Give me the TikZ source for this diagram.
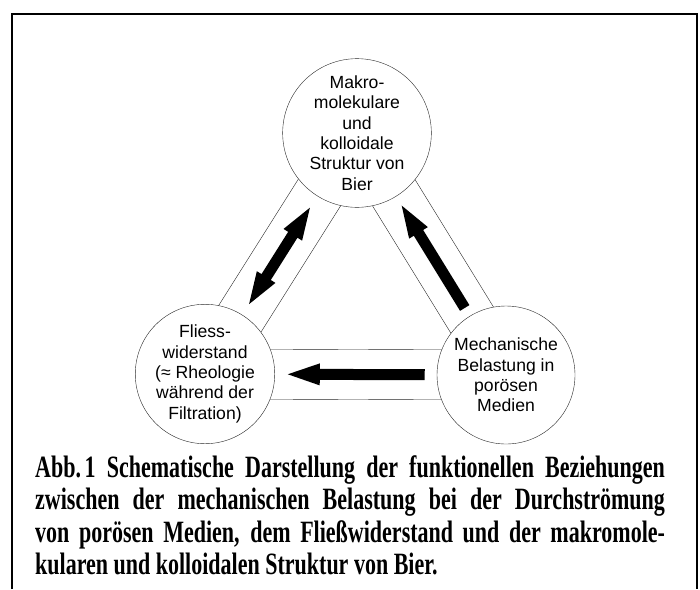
\documentclass[tikz,border=0pt]{standalone}
\usepackage{fontspec}
\setmainfont{Liberation Sans}
\newfontfamily\capfont{Liberation Serif}
\usetikzlibrary{calc,backgrounds}

\newcommand{\fatarrow}[2]{%
  \coordinate (hb) at ($(#2)!32pt!(#1)$);
  \fill ($(#1)!5.5pt!90:(#2)$) -- ($(hb)!5.5pt!90:(#2)$) -- ($(hb)!11pt!90:(#2)$)
    -- (#2) -- ($(hb)!11pt!-90:(#2)$) -- ($(hb)!5.5pt!-90:(#2)$) -- ($(#1)!5.5pt!-90:(#2)$) -- cycle;
}
\newcommand{\fatdarrow}[2]{%
  \coordinate (hb) at ($(#2)!32pt!(#1)$);
  \coordinate (ha) at ($(#1)!32pt!(#2)$);
  \fill (#1) -- ($(ha)!11pt!90:(#2)$) -- ($(ha)!5.5pt!90:(#2)$) -- ($(hb)!5.5pt!90:(#2)$) -- ($(hb)!11pt!90:(#2)$)
    -- (#2) -- ($(hb)!11pt!-90:(#2)$) -- ($(hb)!5.5pt!-90:(#2)$) -- ($(ha)!5.5pt!-90:(#2)$) -- ($(ha)!11pt!-90:(#2)$) -- cycle;
}
\newcommand{\strip}[2]{%
  \draw[thin, black!85] ($(#1)!25pt!90:(#2)$) -- ($(#2)!25pt!-90:(#1)$);
  \draw[thin, black!85] ($(#1)!25pt!-90:(#2)$) -- ($(#2)!25pt!90:(#1)$);
}

\begin{document}
\begin{tikzpicture}[x=1pt, y=-1pt,
    topic/.style={circle, draw=black!85, thin, fill=white, minimum size=138pt, inner sep=0pt,
      align=center, font=\fontsize{17.6}{20.3}\selectfont}]
  \useasboundingbox (0,0) rectangle (700,589);
  \draw[line width=1.5pt] (12,589) -- (12,14) -- (697,14) -- (697,589);

  \node[topic] (bier) at (357,133) {Makro-\\molekulare\\und\\kolloidale\\Struktur von\\Bier};
  \node[topic] (fliess) at (205,374) {Fliess-\\widerstand\\(≈ Rheologie\\während der\\Filtration)};
  \node[topic] (mech) at (506,375) {Mechanische\\Belastung in\\porösen\\Medien};

  \begin{scope}[on background layer]
    \strip{fliess.center}{bier.center}
    \strip{mech.center}{bier.center}
    \strip{mech.center}{fliess.center}
  \end{scope}

  \coordinate (a1) at ($(fliess.center)!0.29!(bier.center)$);
  \coordinate (a2) at ($(fliess.center)!0.69!(bier.center)$);
  \coordinate (b1) at ($(mech.center)!0.277!(bier.center)$);
  \coordinate (b2) at ($(mech.center)!0.70!(bier.center)$);
  \coordinate (c1) at ($(mech.center)!0.27!(fliess.center)$);
  \coordinate (c2) at ($(mech.center)!0.725!(fliess.center)$);
  \fatdarrow{a1}{a2}
  \fatarrow{b1}{b2}
  \fatarrow{c1}{c2}

  \node[anchor=north west, inner sep=0pt] (caption) at (35,455) {\scalebox{0.71}[1]{\parbox{887pt}{%
    \capfont\bfseries\fontsize{31}{32.5}\selectfont
    \spaceskip=0.25em plus 0.6em minus 0.12em
    Abb.\,1 Schematische Darstellung der funktionellen Beziehungen\linebreak
    zwischen der mechanischen Belastung bei der Durchströmung\linebreak
    von porösen Medien, dem Fließwiderstand und der makromole-\linebreak
    kularen und kolloidalen Struktur von Bier.}}};
\end{tikzpicture}
\end{document}
